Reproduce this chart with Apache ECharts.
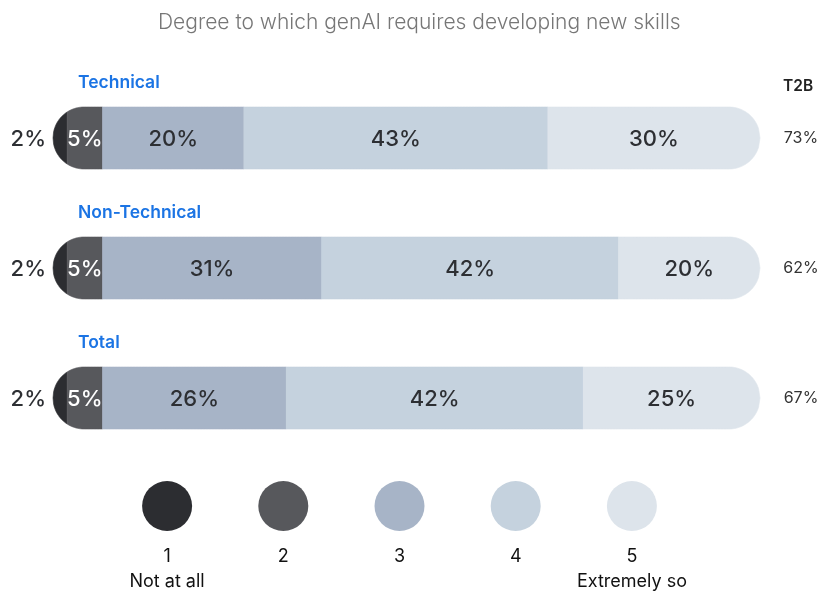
<!DOCTYPE html>
<html>
<head>
<meta charset="utf-8">
<script src="https://cdn.jsdelivr.net/npm/echarts@6/dist/echarts.min.js"></script>
<style>
  html, body { margin: 0; padding: 0; background: #ffffff; }
  #chart { width: 819px; height: 593px; }
</style>
</head>
<body>
<div id="chart"></div>
<script>
// Survey rows and rating scale
const rows = ['Technical', 'Non-Technical', 'Total'];
const levels = ['1', '2', '3', '4', '5'];
const levelNotes = ['Not at all', '', '', '', 'Extremely so'];

// Share of respondents (%) per rating, one array per rating, ordered like rows
const level1 = [2, 2, 2];
const level2 = [5, 5, 5];
const level3 = [20, 31, 26];
const level4 = [43, 42, 42];
const level5 = [30, 20, 25];

// Top-two-box (rating 4 + 5) per row
const t2b = [73, 62, 67];

const colors = ['#2c2d31', '#57585c', '#a7b4c7', '#c5d2de', '#dde4eb'];
const FONT = 'Inter, "Noto Sans", sans-serif';
const BAR_H = 62;

const levelValues = [level1, level2, level3, level4, level5];

// Cumulative start/end of every segment, built from the arrays above
function segmentData(k) {
  return rows.map((_, r) => {
    let start = 0;
    for (let j = 0; j < k; j++) start += levelValues[j][r];
    return [start, r, start + levelValues[k][r], levelValues[k][r]];
  });
}

// Half height of the rounded bar (stadium) at pixel x
function halfAt(x, L, R, rad) {
  if (x < L + rad) {
    const d = L + rad - x;
    return Math.sqrt(Math.max(0, rad * rad - d * d));
  }
  if (x > R - rad) {
    const d = x - (R - rad);
    return Math.sqrt(Math.max(0, rad * rad - d * d));
  }
  return rad;
}

// Outline of the part of the stadium between x0 and x1
function segmentOutline(x0, x1, cy, L, R, rad) {
  const n = Math.max(24, Math.ceil((x1 - x0) / 1.5));
  const top = [], bottom = [];
  for (let i = 0; i <= n; i++) {
    const x = x0 + (x1 - x0) * i / n;
    const h = halfAt(x, L, R, rad);
    top.push([x, cy - h]);
    bottom.push([x, cy + h]);
  }
  return top.concat(bottom.reverse());
}

function makeSegmentRenderer(k) {
  return function (params, api) {
    const row = api.value(1);
    const a = api.coord([api.value(0), row]);
    const b = api.coord([api.value(2), row]);
    const L = api.coord([0, row])[0];
    const R = api.coord([100, row])[0];
    const cy = a[1];
    const rad = BAR_H / 2;
    const children = [{
      type: 'polygon',
      shape: { points: segmentOutline(a[0], b[0], cy, L, R, rad) },
      style: { fill: colors[k], stroke: colors[k], lineWidth: 0.6 }
    }];
    let tx = (a[0] + b[0]) / 2, align = 'center', fill = '#2d2f33';
    if (k === 0) { tx = L - 7; align = 'right'; }
    if (k === 1) { fill = '#ffffff'; }
    children.push({
      type: 'text',
      style: {
        x: tx, y: cy + 1, text: api.value(3) + '%',
        align: align, verticalAlign: 'middle',
        fill: fill, font: '500 22px ' + FONT
      }
    });
    return { type: 'group', children: children };
  };
}

const segmentSeries = levels.map((lv, k) => ({
  type: 'custom',
  name: lv,
  xAxisIndex: 0,
  yAxisIndex: 0,
  data: segmentData(k),
  encode: { x: [0, 2], y: 1 },
  renderItem: makeSegmentRenderer(k),
  silent: true,
  animation: false
}));

// Row titles above each bar and the T2B figure on the right
const annotationSeries = {
  type: 'custom',
  xAxisIndex: 0,
  yAxisIndex: 0,
  data: rows.map((name, r) => [0, r, t2b[r]]),
  encode: { x: 0, y: 1 },
  renderItem: function (params, api) {
    const row = api.value(1);
    const L = api.coord([0, row]);
    const R = api.coord([100, row]);
    return {
      type: 'group',
      children: [
        {
          type: 'text',
          style: {
            x: L[0] + 25, y: L[1] - 55, text: rows[row],
            align: 'left', verticalAlign: 'middle',
            fill: '#1b74e4', font: '600 17.5px ' + FONT
          }
        },
        {
          type: 'text',
          style: {
            x: R[0] + 41, y: R[1], text: api.value(2) + '%',
            align: 'center', verticalAlign: 'middle',
            fill: '#333333', font: '16px ' + FONT
          }
        }
      ]
    };
  },
  silent: true,
  animation: false
};

// Rating scale key drawn as circles on its own grid
const keySeries = {
  type: 'scatter',
  xAxisIndex: 1,
  yAxisIndex: 1,
  symbol: 'circle',
  symbolSize: 50,
  itemStyle: { opacity: 1 },
  data: levels.map((lv, i) => ({
    value: [lv, 0.5],
    itemStyle: { color: colors[i], opacity: 1 },
    label: {
      formatter: levelNotes[i] ? '{n|' + lv + '}\n{d|' + levelNotes[i] + '}' : '{n|' + lv + '}'
    }
  })),
  label: {
    show: true,
    position: 'bottom',
    distance: 14,
    opacity: 1,
    rich: {
      n: { fontFamily: FONT, fontSize: 18, color: '#111111', lineHeight: 24, align: 'center' },
      d: { fontFamily: FONT, fontSize: 18, color: '#111111', lineHeight: 26, align: 'center' }
    }
  },
  silent: true,
  animation: false
};

const chart = echarts.init(document.getElementById('chart'), null, { renderer: 'canvas' });
chart.setOption({
  backgroundColor: '#ffffff',
  animation: false,
  title: {
    text: 'Degree to which genAI requires developing new skills',
    left: 153,
    top: 7,
    textStyle: { fontFamily: FONT, fontSize: 21, fontWeight: 300, color: '#777777' }
  },
  graphic: [{
    type: 'text',
    left: 783,
    top: 78,
    style: { text: 'T2B', fill: '#222222', font: '600 15.5px ' + FONT }
  }],
  grid: [
    { left: 53, right: 59, top: 73, height: 390 },
    { left: 109, width: 581, top: 480, height: 52 }
  ],
  xAxis: [
    { type: 'value', gridIndex: 0, min: 0, max: 100, show: false },
    { type: 'category', gridIndex: 1, data: levels, show: false }
  ],
  yAxis: [
    { type: 'category', gridIndex: 0, data: rows, inverse: true, show: false },
    { type: 'value', gridIndex: 1, min: 0, max: 1, show: false }
  ],
  series: segmentSeries.concat([annotationSeries, keySeries])
});
</script>
</body>
</html>
